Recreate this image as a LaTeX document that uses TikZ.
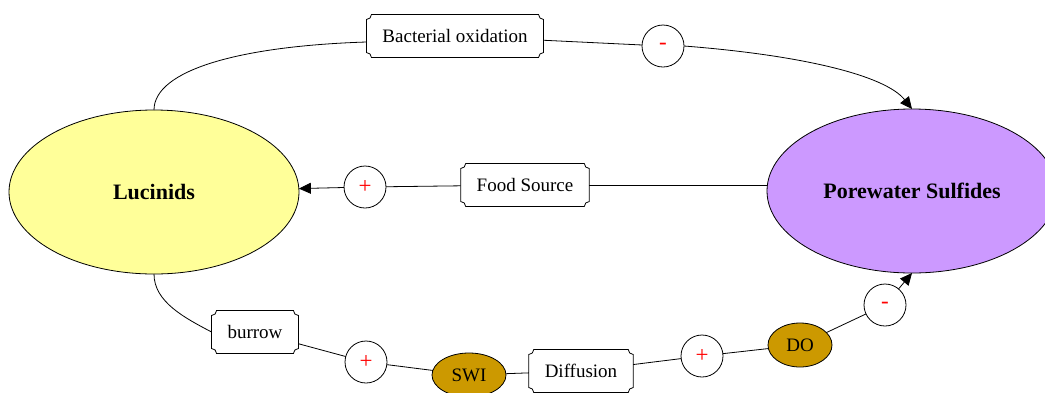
\documentclass[tikz,border=0pt]{standalone}
\usepackage{fontspec}
\setmainfont{Liberation Serif}
\usepackage{xcolor}
\usepackage{tikz}
\usetikzlibrary{calc}
\usetikzlibrary{shapes.geometric}
\usetikzlibrary{arrows.meta}

\definecolor{lucinidyellow}{HTML}{FFFF99}
\definecolor{sulfidepurple}{HTML}{CC99FF}
\definecolor{fluxgold}{HTML}{CC9900}

\begin{document}
\begin{tikzpicture}[x=1pt, y=-1pt,
  every node/.style={font=\fontsize{19}{22}\selectfont, inner sep=0pt, outer sep=0pt},
  pool/.style={ellipse, draw, line width=0.8pt, minimum width=290pt, minimum height=164pt, font=\fontsize{22}{26}\selectfont\bfseries},
  flux/.style={ellipse, draw, line width=0.8pt, fill=fluxgold, minimum width=74pt, minimum height=44pt},
  sign/.style={circle, draw, line width=0.8pt, fill=white, minimum size=42pt, text=red, font=\fontsize{23}{26}\selectfont},
  notched/.style={inner xsep=16pt, minimum height=43pt,
    append after command={\pgfextra{\let\notchnode\tikzlastnode
      \draw[x=1pt, y=1pt, line width=0.8pt]
        ($(\notchnode.north west)+(0pt,-5pt)$) arc[start angle=-90, end angle=0, radius=5pt]
        -- ($(\notchnode.north east)+(-5pt,0pt)$) arc[start angle=180, end angle=270, radius=5pt]
        -- ($(\notchnode.south east)+(0pt,5pt)$) arc[start angle=90, end angle=180, radius=5pt]
        -- ($(\notchnode.south west)+(5pt,0pt)$) arc[start angle=0, end angle=90, radius=5pt]
        -- cycle;}}},
  link/.style={line width=0.8pt},
  arrowlink/.style={link, -{Triangle[length=12pt, width=11pt]}}
]
  \useasboundingbox (0,0) rectangle (1045,392);
  \clip (0,0) rectangle (1045,392);

  % the two pools
  \node[pool, fill=lucinidyellow] (luc) at (154,192) {Lucinids};
  \node[pool, fill=sulfidepurple] (sulf) at (912,191) {Porewater Sulfides};

  % labels and signs on the links
  \node[notched] (bact) at (455,36) {Bacterial oxidation};
  \node[sign] (minusA) at (663,46) {-};
  \node[notched] (food) at (525,185) {Food Source};
  \node[sign] (plusA) at (365,187) {+};
  \node[notched] (burrow) at (255,332) {burrow};
  \node[sign] (plusB) at (366,362) {+};
  \node[flux] (swi) at (469,375) {SWI};
  \node[notched] (diff) at (581,371) {Diffusion};
  \node[sign] (plusC) at (702,356) {+};
  \node[flux, minimum width=64pt] (doxy) at (800,345) {DO};
  \node[sign] (minusB) at (885,305) {-};

  \draw[link] (luc.north) .. controls (154,70) and (240,46) .. ($(bact.west)+(0,6)$);
  \draw[link] (bact) -- (minusA);
  \draw[arrowlink] (minusA.east) .. controls (800,55) and (885,75) .. (sulf.north);

  \draw[link] (food.east -| sulf.west) -- (food.east);
  \draw[link] (food) -- (plusA);
  \draw[arrowlink] (plusA) -- (luc);

  \draw[link] (luc.south) .. controls (154,302) and (185,318) .. (burrow.west);
  \draw[link] (burrow) -- (plusB);
  \draw[link] (plusB) -- (swi);
  \draw[link] (swi) -- (diff);
  \draw[link] (diff) -- (plusC);
  \draw[link] (plusC) -- (doxy);
  \draw[link] (doxy) -- (minusB);
  \draw[arrowlink] (minusB) -- (sulf.south);
\end{tikzpicture}
\end{document}
